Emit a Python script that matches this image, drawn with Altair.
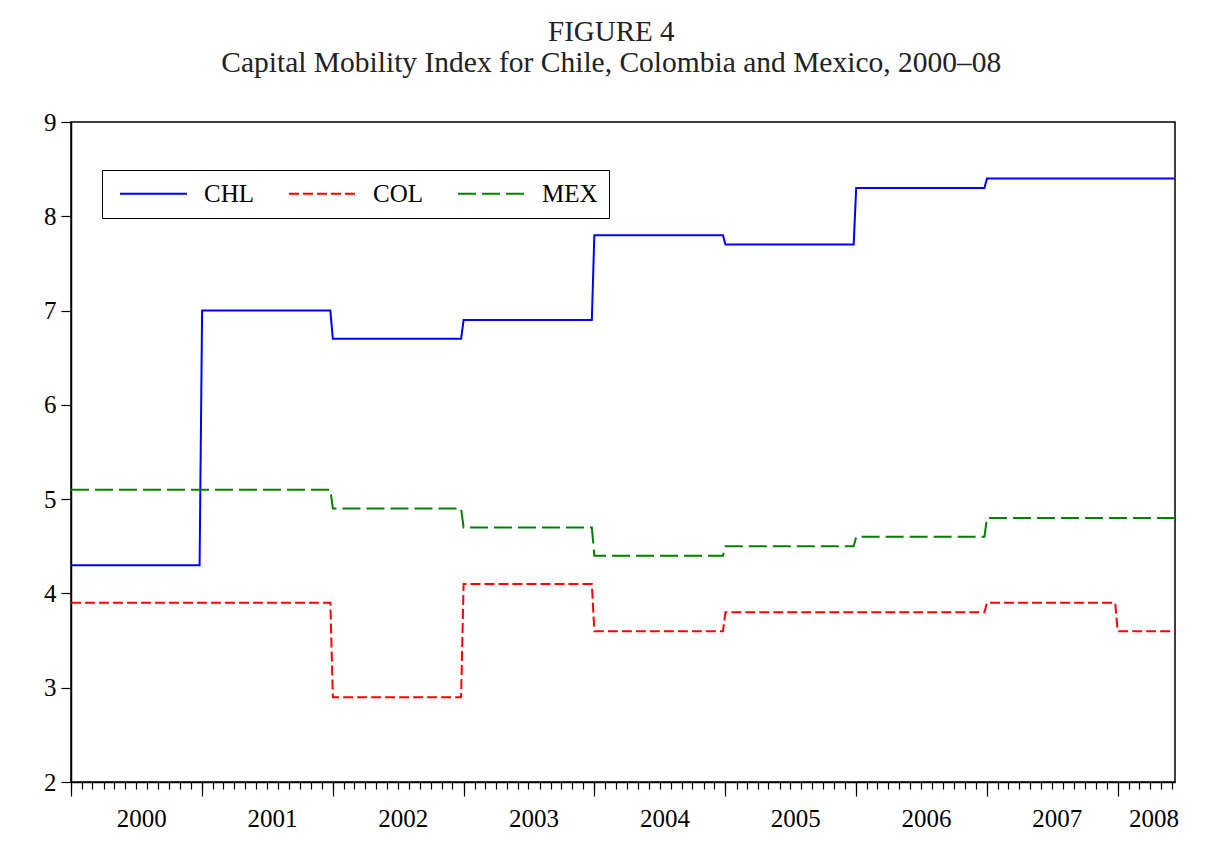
import altair as alt
import pandas as pd

# --- data (annual index values, held flat through each year) ---
years = [2000, 2001, 2002, 2003, 2004, 2005, 2006, 2007, 2008]
chl = [4.3, 7.0, 6.7, 6.9, 7.8, 7.7, 8.3, 8.4, 8.4]
col = [3.9, 3.9, 2.9, 4.1, 3.6, 3.8, 3.8, 3.9, 3.6]
mex = [5.1, 5.1, 4.9, 4.7, 4.4, 4.5, 4.6, 4.8, 4.8]
last_obs = "2008-06-09"

series_names = ["CHL", "COL", "MEX"]
series_colors = ["#0000ff", "#ff0000", "#008000"]
series_dash = [[1, 0], [10, 4], [18, 6]]

year_label_dates = [(2000, 7, 15), (2001, 7, 15), (2002, 7, 15), (2003, 7, 15),
                    (2004, 7, 15), (2005, 7, 15), (2006, 7, 15), (2007, 7, 15),
                    (2008, 4, 10)]

rows = []
for name, vals in zip(series_names, [chl, col, mex]):
    for yr, v in zip(years, vals):
        end = last_obs if yr == years[-1] else f"{yr}-12-25"
        rows.append({"date": f"{yr}-01-01", "series": name, "value": v})
        rows.append({"date": end, "series": name, "value": v})
df = pd.DataFrame(rows)

FONT = "Liberation Serif"

x_scale = alt.Scale(
    type="utc",
    domain=[alt.DateTime(year=2000, month=1, date=1, utc=True),
            alt.DateTime(year=2008, month=6, date=9, utc=True)],
)
y_scale = alt.Scale(domain=[2, 9], nice=False, zero=False)
y_axis = alt.Axis(values=[2, 3, 4, 5, 6, 7, 8, 9], grid=False, tickSize=10,
                  tickWidth=1.2, tickColor="black", domainColor="black",
                  domainWidth=1.5, labelPadding=5, labelFont=FONT,
                  labelFontSize=25, labelColor="black", orient="left")

# --- lines + monthly minor ticks ---
lines = alt.Chart(df).mark_line(strokeWidth=2).encode(
    x=alt.X("date:T", scale=x_scale, title=None,
            axis=alt.Axis(orient="bottom", tickCount={"interval": "month", "step": 1},
                          labels=False, grid=False, tickSize=7, tickWidth=1.2,
                          tickColor="black", domainColor="black", domainWidth=1.5)),
    y=alt.Y("value:Q", scale=y_scale, title=None, axis=y_axis),
    color=alt.Color("series:N",
                    scale=alt.Scale(domain=series_names, range=series_colors),
                    legend=alt.Legend(title=None)),
    strokeDash=alt.StrokeDash("series:N",
                              scale=alt.Scale(domain=series_names, range=series_dash),
                              legend=alt.Legend(title=None)),
)

# --- yearly major ticks ---
year_ticks = alt.Chart(df).mark_point(opacity=0).encode(
    x=alt.X("date:T", scale=x_scale, title=None,
            axis=alt.Axis(orient="bottom", tickCount={"interval": "year", "step": 1},
                          labels=False, grid=False, domain=False, tickSize=14,
                          tickWidth=1.2, tickColor="black")),
    y=alt.Y("value:Q", scale=y_scale, title=None, axis=y_axis),
)

# --- year labels centred in each year ---
year_labels = alt.Chart(df).mark_point(opacity=0).encode(
    x=alt.X("date:T", scale=x_scale, title=None,
            axis=alt.Axis(orient="bottom",
                          values=[alt.DateTime(year=y, month=m, date=d, utc=True)
                                  for y, m, d in year_label_dates],
                          format="%Y", ticks=False, domain=False, grid=False,
                          labelPadding=24, labelFlush=False, labelFont=FONT,
                          labelFontSize=25, labelColor="black")),
    y=alt.Y("value:Q", scale=y_scale, title=None, axis=y_axis),
)

chart = alt.layer(lines, year_ticks, year_labels).resolve_axis(
    x="independent"
).properties(
    width=1104,
    height=660,
    autosize=alt.AutoSizeParams(type="none"),
    padding={"left": 63, "top": 114, "right": 45, "bottom": 50},
    title=alt.TitleParams(
        text="FIGURE 4",
        subtitle="Capital Mobility Index for Chile, Colombia and Mexico, 2000–08",
        font=FONT, fontSize=29, fontWeight="normal", color="#222222",
        subtitleFont=FONT, subtitleFontSize=29.5, subtitleColor="#222222",
        subtitlePadding=2, anchor="middle", frame="bounds", offset=33,
    ),
).configure_view(
    stroke="black", strokeWidth=1.5
).configure_legend(
    orient="none", legendX=31, legendY=48, direction="horizontal",
    strokeColor="black", fillColor="white", padding=11,
    symbolType="M-4,0H4", symbolSize=280, symbolStrokeWidth=2, symbolOffset=28,
    labelFont=FONT, labelFontSize=25, labelColor="black",
    labelOffset=38, columnPadding=28,
)

chart.save("out.html", embed_options={"renderer": "svg", "actions": False})
